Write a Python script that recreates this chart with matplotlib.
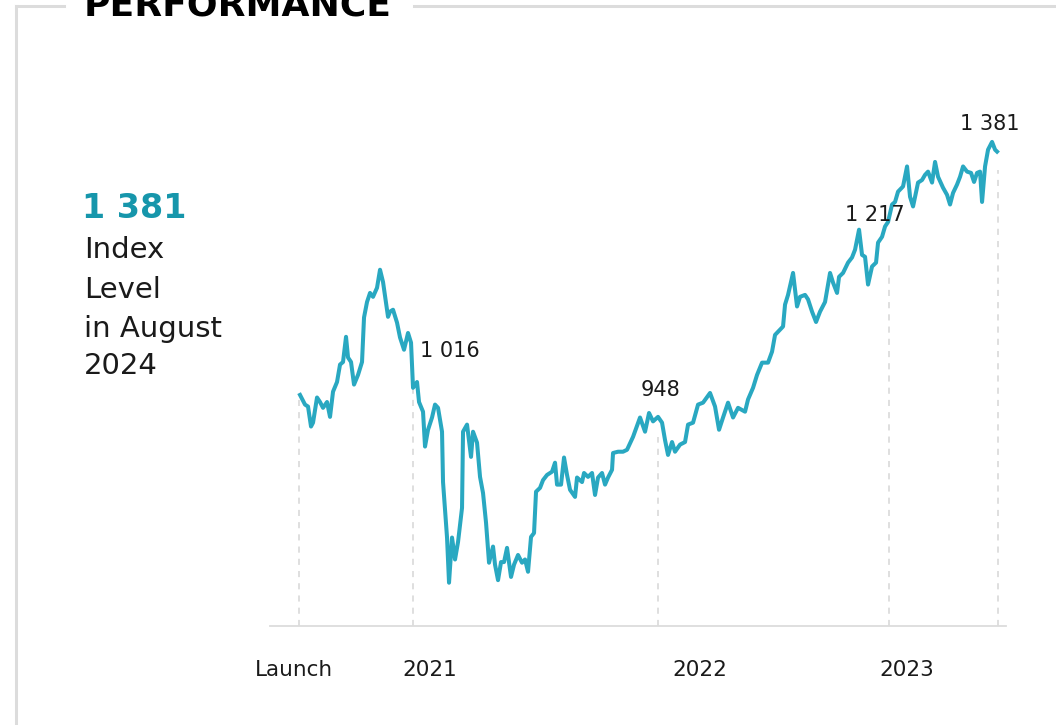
import matplotlib
matplotlib.use("Agg")
import matplotlib.pyplot as plt
from matplotlib.lines import Line2D
import matplotlib.transforms as mtransforms

# trading days since launch and index level
days = [1, 6, 9, 12, 14, 18, 21, 24, 28, 31, 34, 38, 41, 44, 47, 49, 52, 55, 59, 63,
        65, 68, 71, 74, 78, 81, 84, 89, 91, 94, 98, 101, 105, 109, 112, 114, 118, 120, 124, 126,
        129, 133, 136, 139, 143, 144, 148, 150, 153, 156, 159, 163, 164, 168, 172, 174, 178, 181, 184, 187,
        190, 194, 196, 199, 202, 205, 208, 212, 215, 219, 223, 226, 229, 232, 235, 237, 241, 244, 248, 253,
        256, 258, 262, 265, 268, 271, 276, 278, 283, 285, 289, 293, 296, 299, 303, 306, 309, 313, 314, 319,
        324, 328, 334, 341, 346, 350, 354, 359, 363, 366, 369, 373, 376, 381, 386, 389, 394, 399, 404, 411,
        416, 420, 424, 429, 434, 439, 446, 449, 454, 458, 463, 469, 473, 476, 481, 484, 486, 489, 494, 498,
        501, 506, 509, 513, 517, 521, 526, 531, 534, 538, 540, 544, 549, 553, 556, 560, 563, 566, 569, 573,
        577, 579, 583, 586, 589, 593, 596, 599, 604, 608, 611, 614, 619, 623, 626, 629, 633, 636, 639, 644,
        648, 651, 654, 658, 661, 664, 668, 672, 675, 678, 681, 683, 686, 689, 693, 696, 698]
level = [1001, 986, 983, 952, 958, 997, 990, 981, 990, 967, 1006, 1021, 1048, 1052, 1091, 1059, 1052, 1017, 1032, 1052,
         1121, 1145, 1159, 1153, 1167, 1195, 1176, 1122, 1130, 1133, 1113, 1090, 1071, 1097, 1082, 1012, 1021, 990, 975, 921,
         947, 966, 986, 981, 944, 866, 780, 710, 780, 746, 773, 826, 944, 955, 905, 944, 927, 874, 849, 803,
         741, 766, 738, 714, 742, 742, 764, 719, 738, 753, 741, 746, 727, 781, 787, 851, 857, 869, 877, 882,
         896, 862, 862, 904, 877, 854, 843, 873, 866, 880, 874, 880, 846, 873, 880, 862, 873, 885, 911, 913,
         913, 916, 936, 966, 944, 973, 960, 967, 958, 931, 908, 928, 913, 924, 928, 955, 958, 986, 989, 1004,
         983, 947, 966, 989, 966, 981, 975, 994, 1012, 1032, 1051, 1051, 1068, 1094, 1102, 1107, 1141, 1156, 1190, 1138,
         1153, 1156, 1149, 1130, 1114, 1130, 1145, 1190, 1175, 1159, 1184, 1190, 1206, 1214, 1226, 1257, 1218, 1215, 1172, 1200,
         1206, 1237, 1246, 1262, 1269, 1296, 1300, 1316, 1324, 1355, 1308, 1293, 1330, 1334, 1342, 1347, 1330, 1362, 1339, 1322,
         1311, 1296, 1314, 1327, 1339, 1355, 1347, 1345, 1331, 1345, 1347, 1300, 1355, 1381, 1393, 1381, 1378]

# milestone guides: position, height of dashed line
guide_days = [0, 114, 359, 590, 699]
guide_tops = [1001, 1052, 936, 1210, 1350]

# value labels
value_labels = ["1 016", "948", "1 217", "1 381"]
value_label_days = [151, 361, 576, 691]
value_label_levels = [1069, 1009, 1280, 1421]

# x axis labels
axis_labels = ["Launch", "2021", "2022", "2023"]
axis_label_days = [-5, 131, 401, 608]

LINE = "#29a8c1"
TEAL = "#1696ab"
GREY = "#dcdcdc"

fig = plt.figure(figsize=(10.56, 7.25), dpi=100)
ax = fig.add_axes([0.2557, 0.1366, 0.697, 0.7255])

for d, top in zip(guide_days, guide_tops):
    ax.plot([d, d], [643, top], color="#d6d6d6", lw=1.1, ls=(0, (4, 4)), zorder=1)

ax.plot(days, level, color=LINE, lw=2.9, solid_joinstyle="round", zorder=3)

for lab, d, v in zip(value_labels, value_label_days, value_label_levels):
    ax.text(d, v, lab, ha="center", va="center", fontsize=15, color="#1a1a1a", zorder=4)

trans = mtransforms.blended_transform_factory(ax.transData, ax.transAxes)
for lab, d in zip(axis_labels, axis_label_days):
    ax.text(d, -0.083, lab, transform=trans, ha="center", va="center", fontsize=15.5, color="#1a1a1a")

ax.set_xlim(-29, 707)
ax.set_ylim(643, 1458)
for s in ["top", "right", "left"]:
    ax.spines[s].set_visible(False)
ax.spines["bottom"].set_color(GREY)
ax.spines["bottom"].set_linewidth(1.3)
ax.set_xticks([])
ax.set_yticks([])

# frame round the panel with the title breaking the top rule
W, H = 1056, 725
fig.add_artist(Line2D([16 / W, 16 / W], [0, 1 - 6 / H], color=GREY, lw=2.2))
fig.add_artist(Line2D([16 / W, 64 / W], [1 - 6 / H, 1 - 6 / H], color=GREY, lw=2.2))
fig.add_artist(Line2D([414 / W, 1], [1 - 6 / H, 1 - 6 / H], color=GREY, lw=2.2))
fig.text(84 / W, 1 - 15 / H, "PERFORMANCE", fontsize=26, fontweight="bold",
         color="black", ha="left", va="baseline")

# headline figure
fig.text(82 / W, 1 - 218 / H, "1 381", fontsize=24, fontweight="bold", color=TEAL,
         ha="left", va="baseline")
for txt, base in zip(["Index", "Level", "in August", "2024"], [258, 298, 337, 374]):
    fig.text(84 / W, 1 - base / H, txt, fontsize=21, color="#1a1a1a", ha="left", va="baseline")

fig.savefig("out.png", dpi=100, facecolor="white")
